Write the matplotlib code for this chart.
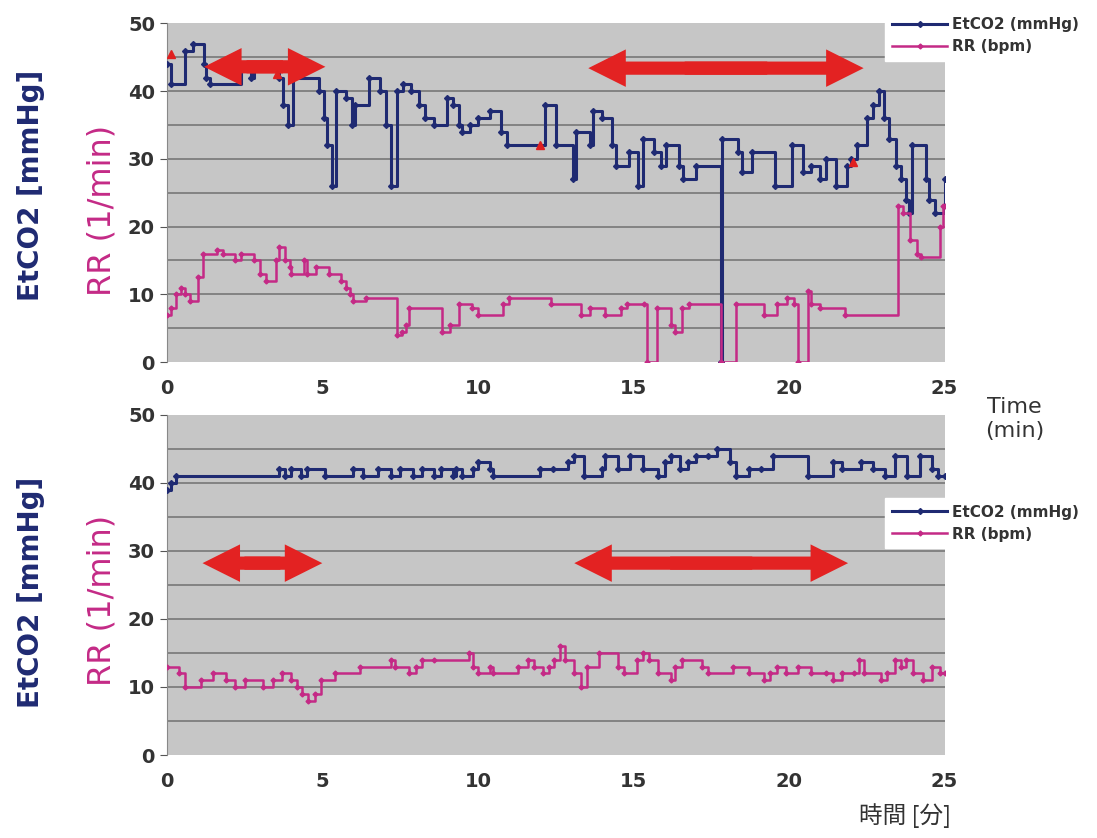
import matplotlib
matplotlib.use("Agg")
import matplotlib.pyplot as plt
from matplotlib.patches import FancyArrowPatch

plt.rcParams["font.family"] = ["DejaVu Sans", "Noto Sans CJK JP"]

NAVY = "#1f2a72"
MAGENTA = "#c42a86"
BG = "#c6c6c6"
GRID = "#707070"
ARROW = "#e32222"

# ---- upper panel (time in min) ----
ET1_T = [0, 0.15, 0.6, 0.85, 1.2, 1.25, 1.4, 2.4, 2.7, 2.8, 3.6, 3.75, 3.9, 4.05,
         4.9, 5.05, 5.15, 5.3, 5.45, 5.75, 5.95, 6.05, 6.5, 6.85, 7.05, 7.2, 7.4,
         7.6, 7.85, 8.1, 8.3, 8.6, 9.0, 9.2, 9.4, 9.5, 9.75, 10.0, 10.4, 10.75,
         10.95, 12.15, 12.5, 13.05, 13.15, 13.6, 13.7, 14.0, 14.3, 14.45, 14.85,
         15.15, 15.3, 15.65, 15.9, 16.05, 16.45, 16.6, 17.0, 17.8, 17.85, 18.35,
         18.5, 18.8, 19.55, 20.1, 20.45, 20.7, 21.0, 21.2, 21.5, 21.85, 22.0,
         22.2, 22.5, 22.7, 22.9, 23.05, 23.2, 23.45, 23.6, 23.75, 23.85, 23.95,
         24.4, 24.5, 24.7, 25.0]
ET1_V = [44, 41, 46, 47, 44, 42, 41, 44, 42, 44, 42, 38, 35, 42,
         40, 36, 32, 26, 40, 39, 35, 38, 42, 40, 35, 26, 40,
         41, 40, 38, 36, 35, 39, 38, 35, 34, 35, 36, 37, 34,
         32, 38, 32, 27, 34, 32, 37, 36, 32, 29, 31,
         26, 33, 31, 29, 32, 29, 27, 29, 0, 33, 31,
         28, 31, 26, 32, 28, 29, 27, 30, 26, 29, 30,
         32, 36, 38, 40, 36, 33, 29, 27, 24, 22, 32,
         27, 24, 22, 27]

RR1_T = [0, 0.15, 0.3, 0.45, 0.6, 0.75, 1.0, 1.15, 1.6, 1.8, 2.2, 2.4, 2.8, 3.0,
         3.2, 3.5, 3.6, 3.8, 3.95, 4.0, 4.4, 4.5, 4.8, 5.2, 5.6, 5.75, 5.9, 6.0,
         6.4, 7.4, 7.55, 7.7, 7.8, 8.85, 9.1, 9.4, 9.8, 10.0, 10.8, 11.0, 12.35,
         13.3, 13.6, 14.1, 14.6, 14.8, 15.35, 15.45, 15.75, 16.2, 16.35, 16.55,
         16.8, 17.8, 18.3, 19.2, 19.6, 19.95, 20.15, 20.3, 20.6, 20.7, 21.0,
         21.8, 23.5, 23.65, 23.9, 24.1, 24.25, 24.85, 24.95, 25.0]
RR1_V = [7, 8, 10, 11, 10, 9, 12.5, 16, 16.5, 16, 15, 16, 15, 13,
         12, 15, 17, 15, 14, 13, 15, 13, 14, 13, 12, 11, 10, 9,
         9.5, 4, 4.5, 5.5, 8, 4.5, 5.5, 8.5, 8, 7, 8.5, 9.5, 8.5,
         7, 8, 7, 8, 8.5, 8.5, 0, 8, 5.5, 4.5, 8,
         8.5, 0, 8.5, 7, 8.5, 9.5, 8.5, 0, 10.5, 8.5, 8,
         7, 23, 22, 18, 16, 15.5, 20, 23, 23]

# event marks (red triangles) on upper panel
EVT_T = [0.15, 3.55, 12.0, 22.05]
EVT_V = [45.5, 42.5, 32, 29.5]

# ---- lower panel ----
ET2_T = [0, 0.15, 0.3, 3.6, 3.8, 4.0, 4.3, 4.5, 5.1, 6.0, 6.3, 6.8, 7.2, 7.5,
         7.9, 8.2, 8.6, 8.8, 9.2, 9.3, 9.5, 9.85, 10.0, 10.4, 10.5, 12.0,
         12.4, 12.9, 13.1, 13.4, 14.0, 14.1, 14.5, 14.9, 15.3, 15.8, 16.0,
         16.2, 16.5, 16.75, 17.0, 17.4, 17.7, 18.1, 18.3, 18.7, 19.1, 19.5,
         20.6, 21.4, 21.7, 22.3, 22.7, 23.1, 23.4, 23.8, 24.2, 24.6, 24.8, 25.0]
ET2_V = [39, 40, 41, 42, 41, 42, 41, 42, 41, 42, 41, 42, 41, 42,
         41, 42, 41, 42, 41, 42, 41, 42, 43, 42, 41, 42,
         42, 43, 44, 41, 42, 44, 42, 44, 42, 41, 43,
         44, 42, 43, 44, 44, 45, 43, 41, 42, 42, 44,
         41, 43, 42, 43, 42, 41, 44, 41, 44, 42, 41, 41]

RR2_T = [0, 0.4, 0.6, 1.1, 1.5, 1.9, 2.2, 2.5, 3.1, 3.4, 3.7, 4.0, 4.2, 4.35,
         4.55, 4.75, 4.95, 5.4, 6.2, 7.2, 7.35, 7.8, 8.0, 8.2, 8.6, 9.7, 9.85,
         10.0, 10.4, 10.5, 11.3, 11.6, 11.8, 12.1, 12.3, 12.45, 12.65, 12.8,
         13.1, 13.3, 13.5, 13.9, 14.5, 14.7, 15.1, 15.3, 15.5, 15.8, 16.2,
         16.35, 16.55, 17.2, 17.4, 18.2, 18.7, 19.2, 19.4, 19.6, 19.9, 20.3,
         20.7, 21.2, 21.4, 21.7, 22.1, 22.25, 22.4, 22.95, 23.15, 23.4, 23.6,
         23.75, 24.0, 24.3, 24.6, 24.85, 25.0]
RR2_V = [13, 12, 10, 11, 12, 11, 10, 11, 10, 11, 12, 11, 10, 9,
         8, 9, 11, 12, 13, 14, 13, 12, 13, 14, 14, 15, 13,
         12, 13, 12, 13, 14, 13, 12, 13, 14, 16, 14,
         12, 10, 13, 15, 13, 12, 14, 15, 14, 12, 11,
         13, 14, 13, 12, 13, 12, 11, 12, 13, 12, 13,
         12, 12, 11, 12, 12, 14, 12, 11, 12, 14, 13,
         14, 12, 11, 13, 12, 12]

YTICKS = [0, 10, 20, 30, 40, 50]
XTICKS = [0, 5, 10, 15, 20, 25]
# (start, end, height) of the highlighted intervals
ARROWS1 = [(1.2, 5.1, 43.6), (13.55, 22.4, 43.4)]
ARROWS2 = [(1.15, 5.0, 28.2), (13.1, 21.9, 28.2)]

ARROW_STYLE = "simple,head_length=2.7,head_width=2.7,tail_width=0.95"


def panel(ax, et_t, et_v, rr_t, rr_v, arrows):
    ax.set_facecolor(BG)
    ax.plot(et_t, et_v, drawstyle="steps-post", color=NAVY, lw=2.2,
            marker="D", ms=3, label="EtCO2 (mmHg)", zorder=3)
    ax.plot(rr_t, rr_v, drawstyle="steps-post", color=MAGENTA, lw=1.8,
            marker="D", ms=2.5, label="RR (bpm)", zorder=3)
    for y in range(5, 50, 5):
        ax.axhline(y, color=GRID, lw=1.1, zorder=1)
    # double-headed arrow = two single arrows, overlapping in the middle
    for x0, x1, y in arrows:
        d = 0.15 * (x1 - x0)
        for xs, xe in ((x1 - 0.5 * (x1 - x0) + d, x0), (x0 + 0.5 * (x1 - x0) - d, x1)):
            ax.add_patch(FancyArrowPatch((xs, y), (xe, y), arrowstyle=ARROW_STYLE,
                                         mutation_scale=10, lw=0, color=ARROW,
                                         shrinkA=0, shrinkB=0, zorder=4))
    ax.set_xlim(0, 25)
    ax.set_ylim(0, 50)
    ax.set_xticks(XTICKS)
    ax.set_yticks(YTICKS)
    ax.tick_params(axis="y", length=5, color="#555555", labelsize=14,
                   labelcolor="#333333")
    ax.tick_params(axis="x", length=0, pad=12, labelsize=14, labelcolor="#333333")
    for lab in ax.get_xticklabels() + ax.get_yticklabels():
        lab.set_fontweight("bold")
    for s in ax.spines.values():
        s.set_visible(False)
    ax.spines["left"].set_visible(True)
    ax.spines["left"].set_color("#888888")


fig = plt.figure(figsize=(10.97, 8.38), dpi=100)
ax1 = fig.add_axes([0.152, 0.568, 0.709, 0.404])
ax2 = fig.add_axes([0.152, 0.099, 0.709, 0.406])
panel(ax1, ET1_T, ET1_V, RR1_T, RR1_V, ARROWS1)
panel(ax2, ET2_T, ET2_V, RR2_T, RR2_V, ARROWS2)
ax1.plot(EVT_T, EVT_V, "^", color="#e02020", ms=6, ls="none", zorder=5)

for ax, top in ((ax1, 0.997), (ax2, 0.415)):
    leg = ax.legend(loc="upper left", bbox_to_anchor=(0.80, top),
                    bbox_transform=fig.transFigure, frameon=True, fancybox=False,
                    edgecolor="white", framealpha=1, fontsize=11,
                    handlelength=3.6, borderpad=0.45, labelspacing=0.45,
                    handletextpad=0.3)
    for t in leg.get_texts():
        t.set_color("#333333")
        t.set_fontweight("bold")

fig.text(0.028, 0.779, "EtCO2 [mmHg]", rotation=90, color=NAVY, fontsize=20,
         fontweight="bold", ha="center", va="center")
fig.text(0.093, 0.749, "RR (1/min)", rotation=90, color=MAGENTA, fontsize=23,
         ha="center", va="center")
fig.text(0.028, 0.293, "EtCO2 [mmHg]", rotation=90, color=NAVY, fontsize=20,
         fontweight="bold", ha="center", va="center")
fig.text(0.093, 0.283, "RR (1/min)", rotation=90, color=MAGENTA, fontsize=23,
         ha="center", va="center")

fig.text(0.925, 0.50, "Time\n(min)", color="#333333", fontsize=16,
         ha="center", va="center", linespacing=1.2)
fig.text(0.825, 0.027, "時間 [分]", color="#333333", fontsize=17,
         ha="center", va="center", family=["Noto Sans CJK JP", "DejaVu Sans"])

fig.savefig("out.png", dpi=100, facecolor="white")
